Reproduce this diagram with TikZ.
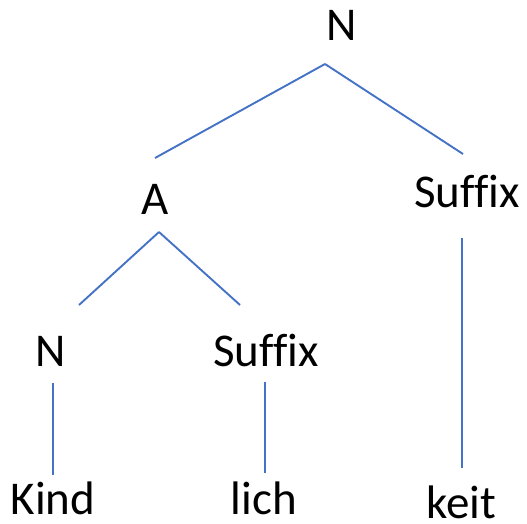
\documentclass[tikz,border=0pt]{standalone}
\usepackage{fontspec}
\setmainfont{Carlito}[Ligatures=NoCommon]
\usetikzlibrary{positioning}
\definecolor{branchblue}{HTML}{4472C4}
\tikzset{x=1pt, y=-1pt,
         every node/.style={ % labels of the tree
           anchor=base,
           inner sep=0pt,
           font=\fontsize{47}{50}\selectfont},
         branch/.style={     % lines between the labels
           draw=branchblue,
           line width=1.9pt}}

\begin{document}
\begin{tikzpicture}
\useasboundingbox (0,0) rectangle (527,524);

\node (n0) at (342,41) {N};
\node (a) at (155,214) {A};
\node (s1) at (467,207) {Suffix};
\node (n1) at (51,366) {N};
\node (s2) at (266,366) {Suffix};
\node (kind) at (53,514) {Kind};
\node (lich) at (264,514) {lich};
\node (keit) at (461,518) {keit};

% top level
\draw[branch] ([shift={(-17,23)}]n0.base) -- ([shift={(0,-56)}]a.base);
\draw[branch] ([shift={(-17,23)}]n0.base) -- ([shift={(-4,-53)}]s1.base);

% adjective
\draw[branch] ([shift={(4,18)}]a.base) -- ([shift={(28,-61)}]n1.base);
\draw[branch] ([shift={(4,18)}]a.base) -- ([shift={(-26,-61)}]s2.base);

% down to the morphs
\draw[branch] ([shift={(2,17)}]n1.base) -- ([shift={(0,-39)}]kind.base);
\draw[branch] ([shift={(-1,16)}]s2.base) -- ([shift={(1,-41)}]lich.base);
\draw[branch] ([shift={(-5,31)}]s1.base) -- ([shift={(1,-50)}]keit.base);
\end{tikzpicture}
\end{document}
